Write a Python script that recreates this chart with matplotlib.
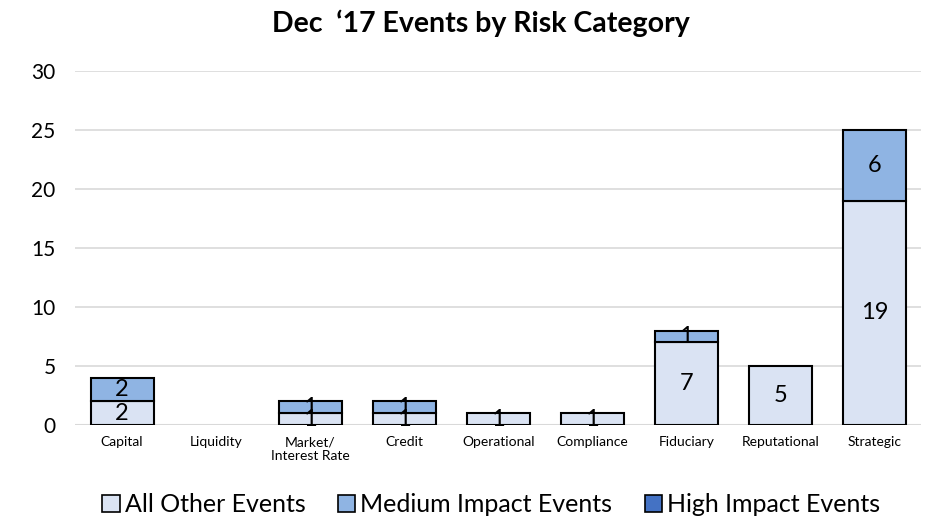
import matplotlib
matplotlib.use("Agg")
import matplotlib.pyplot as plt
from matplotlib.patches import Patch
import numpy as np

plt.rcParams['font.family'] = ['Lato', 'DejaVu Sans']

categories = ["Capital", "Liquidity", "Market/\nInterest Rate", "Credit", "Operational",
              "Compliance", "Fiduciary", "Reputational", "Strategic"]
all_other = [2, 0, 1, 1, 1, 1, 7, 5, 19]
medium = [2, 0, 1, 1, 0, 0, 1, 0, 6]
high = [0, 0, 0, 0, 0, 0, 0, 0, 0]
yticks = [0, 5, 10, 15, 20, 25, 30]
series_names = ["All Other Events", "Medium Impact Events", "High Impact Events"]

c_other = "#DAE3F3"
c_med = "#8FB4E3"
c_high = "#4472C4"

fig = plt.figure(figsize=(9.27, 5.27), dpi=100)
ax = fig.add_axes([0.081, 0.1935, 0.913, 0.6715])

x = np.arange(len(categories))
w = 0.67
b1 = ax.bar(x, all_other, w, color=c_other, edgecolor="black", linewidth=1.5, zorder=3)
b2 = ax.bar(x, medium, w, bottom=all_other, color=c_med, edgecolor="black", linewidth=1.5, zorder=3)
bot2 = np.array(all_other) + np.array(medium)
b3 = ax.bar(x, high, w, bottom=bot2, color=c_high, edgecolor="black", linewidth=1.5, zorder=3)

for bars, vals in ((b1, all_other), (b2, medium), (b3, high)):
    for r, v in zip(bars, vals):
        if v == 0:
            r.set_visible(False)

fs_lab = 17
for i in range(len(categories)):
    if all_other[i]:
        ax.text(x[i], all_other[i] / 2, str(all_other[i]), ha="center", va="center", fontsize=fs_lab, zorder=4)
    if medium[i]:
        ax.text(x[i], all_other[i] + medium[i] / 2, str(medium[i]), ha="center", va="center", fontsize=fs_lab, zorder=4)
    if high[i]:
        ax.text(x[i], bot2[i] + high[i] / 2, str(high[i]), ha="center", va="center", fontsize=fs_lab, zorder=4)

ax.set_xlim(-0.5, len(categories) - 0.5)
ax.set_ylim(0, 30)
ax.set_yticks(yticks)
ax.set_yticklabels([str(t) for t in yticks], fontsize=15)
ax.set_xticks(x)
ax.set_xticklabels(categories, fontsize=10)
ax.tick_params(axis="y", length=0, pad=14)
ax.tick_params(axis="x", length=0, pad=8)
ax.grid(axis="y", color="#D9D9D9", linewidth=1.2, zorder=0)
for s in ax.spines.values():
    s.set_visible(False)
ax.axhline(0, color="#D9D9D9", linewidth=1.5, zorder=2)

fig.text(0.519, 0.955, "Dec  \u201817 Events by Risk Category", ha="center", va="center",
         fontsize=20.5, fontweight="bold")

handles = [Patch(facecolor=c, edgecolor="black", linewidth=1.2) for c in (c_other, c_med, c_high)]
fig.legend(handles=handles, labels=series_names, loc="center", bbox_to_anchor=(0.53, 0.042), ncol=3,
           frameon=False, fontsize=18, handlelength=0.7, handleheight=0.7,
           handletextpad=0.2, columnspacing=1.3)

fig.savefig("out.png", dpi=100)
